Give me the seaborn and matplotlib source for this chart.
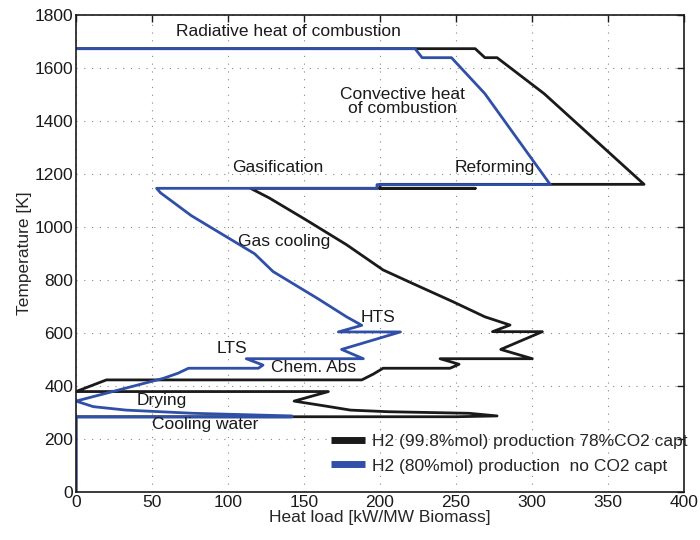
import matplotlib
matplotlib.use("Agg")
import matplotlib.pyplot as plt
import seaborn as sns
import pandas as pd
from matplotlib.lines import Line2D

# Composite heat-load curves (heat load in kW/MW biomass, temperature in K)
capt_load = [0, 262.6, 269, 277, 308, 373.7, 200, 200, 262.6, 114.8, 127, 151, 178, 202,
             223.7, 248, 269, 285.5, 274, 306.8, 279.4, 300.2, 239.5, 252, 246, 202, 195.6,
             188, 20, 0, 166, 143.5, 164.5, 180.6, 205, 258.6, 277, 250, 0, 0]
capt_temp = [1673, 1673, 1639, 1639, 1503, 1161, 1161, 1146, 1146, 1146, 1110, 1028, 933, 838,
             781, 718, 661, 630, 605, 605, 538, 503, 503, 482, 467, 467, 445,
             423, 423, 379, 379, 343, 324, 309, 303, 297, 287, 284, 284, 0]

nocapt_load = [0, 223, 227.7, 247, 269, 312, 198, 198, 53, 55.6, 75.8, 117.5, 129.6, 159,
               178, 188, 172.6, 213.4, 174.7, 189, 112, 123, 120, 74, 67, 57.5, 0, 11.4,
               33, 77, 142, 142, 0, 0]
nocapt_temp = [1673, 1673, 1639, 1639, 1503, 1160, 1160, 1146, 1146, 1129, 1043, 899, 832, 730,
               661, 629, 604, 604, 538, 503, 503, 479, 467, 467, 448, 429, 343, 322,
               309, 297, 287, 283, 283, 0]

labels = ["H2 (99.8%mol) production 78%CO2 capt",
          "H2 (80%mol) production  no CO2 capt"]
colors = ["#1a1a1a", "#3050a8"]

annotations = [
    ("Radiative heat of combustion", 140, 1736),
    ("Convective heat\nof combustion", 215, 1475),
    ("Gasification", 133, 1223),
    ("Reforming", 275.6, 1226),
    ("Gas cooling", 137, 947),
    ("HTS", 198.7, 657),
    ("LTS", 102.6, 543),
    ("Chem. Abs", 156, 468),
    ("Drying", 56.6, 347),
    ("Cooling water", 84.9, 253),
]

sns.set_style("white")
plt.rcParams["font.family"] = ["Liberation Sans", "DejaVu Sans"]

fig = plt.figure(figsize=(7, 5.4), dpi=100)
ax = fig.add_axes([0.1086, 0.0889, 0.8686, 0.8833])

df_capt = pd.DataFrame({"load": capt_load, "temp": capt_temp})
df_nocapt = pd.DataFrame({"load": nocapt_load, "temp": nocapt_temp})

sns.lineplot(data=df_capt, x="load", y="temp", sort=False, estimator=None,
             color=colors[0], lw=2.0, ax=ax)
sns.lineplot(data=df_nocapt, x="load", y="temp", sort=False, estimator=None,
             color=colors[1], lw=2.0, ax=ax)

ax.set_xlim(0, 400)
ax.set_ylim(0, 1800)
ax.set_xticks(range(0, 401, 50))
ax.set_yticks(range(0, 1801, 200))
ax.grid(True, linestyle=(0, (1, 6)), color="#888888", linewidth=0.8)
ax.tick_params(direction="in", length=5, width=1, top=True, right=True,
               labelsize=12.5, colors="#1a1a1a", pad=2)
for sp in ax.spines.values():
    sp.set_linewidth(1.2)
    sp.set_color("#1a1a1a")

ax.set_xlabel("Heat load [kW/MW Biomass]", fontsize=12.5, labelpad=0)
ax.set_ylabel("Temperature [K]", fontsize=12.5, labelpad=2)

for txt, x, y in annotations:
    ax.text(x, y, txt, ha="center", va="center", fontsize=12.5,
            color="#1a1a1a", linespacing=0.9)

handles = [Line2D([], [], color=c, lw=5, solid_capstyle="butt") for c in colors]
leg = ax.legend(handles, labels, loc="lower right", bbox_to_anchor=(1.032, 0.006),
                frameon=False, fontsize=12.5, handlelength=2.0, handletextpad=0.4,
                labelspacing=0.53)
leg.set_clip_on(False)

fig.savefig("out.png", dpi=100)
